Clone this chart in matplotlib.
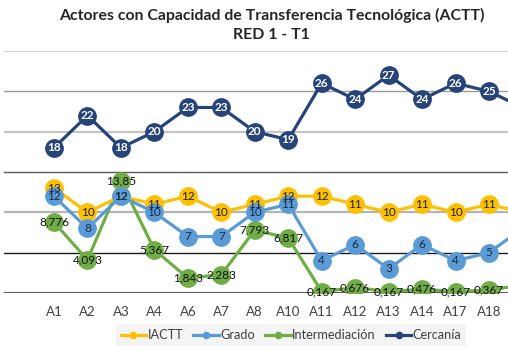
import matplotlib
matplotlib.use("Agg")
import matplotlib.pyplot as plt
from matplotlib.lines import Line2D

plt.rcParams['font.family'] = ['Lato', 'DejaVu Sans']

categories = ["A1", "A2", "A3", "A4", "A6", "A7", "A8", "A10", "A11", "A12",
              "A13", "A14", "A17", "A18", "A19"]
iactt = [13, 10, 12, 11, 12, 10, 11, 12, 12, 11, 10, 11, 10, 11, 10]
grado = [12, 8, 12, 10, 7, 7, 10, 11, 4, 6, 3, 6, 4, 5, 8]
intermediacion = [8.776, 4.093, 13.85, 5.367, 1.843, 2.283, 7.793, 6.817,
                  0.167, 0.676, 0.167, 0.476, 0.167, 0.367, 1.0]
cercania = [18, 22, 18, 20, 23, 23, 20, 19, 26, 24, 27, 24, 26, 25, 23]
grid_values = [0, 5, 10, 15, 20, 25, 30]

title = "Actores con Capacidad de Transferencia Tecnológica (ACTT)\nRED 1 - T1"

W, H = 508, 346
fig = plt.figure(figsize=(W / 100, H / 100), dpi=100)

# layout in pixels
x0_px, step_px = 54, 33.46
left_px = 4
xmin = (left_px - x0_px) / step_px
xmax = 15.5
right_px = x0_px + step_px * xmax
bottom_px, top_px = 293, 51
ax = fig.add_axes([left_px / W, 1 - bottom_px / H, (right_px - left_px) / W,
                   (bottom_px - top_px) / H])
ax.set_xlim(xmin, xmax)
ax.set_ylim(0, 30)
for s in ax.spines.values():
    s.set_visible(False)
ax.set_yticks([])

grid_colors = ["#5a5a5a", "#1a1a1a", "#b4b4b4", "#5a5a5a", "#c4c4c4", "#9a9a9a", "#d4d4d4"]
grid_lw = [2.2, 1.0, 1.6, 1.0, 1.6, 1.0, 1.6]
for v, c, lw in zip(grid_values, grid_colors, grid_lw):
    ax.axhline(v, color=c, lw=lw, zorder=0)

x = list(range(len(categories)))
# only categories whose position falls inside the visible canvas get text
visible = [xi for xi in x if x0_px + step_px * xi < W - 10]
ax.set_xticks(visible)
ax.set_xticklabels([categories[i] for i in visible], fontsize=9.5, color="#404040")
ax.tick_params(axis='x', length=0, pad=9)

ms = 12.5
lw = 2.3
series = [
    ("IACTT", iactt, "#FFC000", 3, "#222222", "normal"),
    ("Grado", grado, "#5B9BD5", 4, "#1a2a44", "normal"),
    ("Intermediación", intermediacion, "#70AD47", 2, "#111111", "normal"),
    ("Cercanía", cercania, "#264478", 5, "white", "bold"),
]

def fmt(v):
    s = f"{v:.3f}".rstrip('0').rstrip('.')
    return s.replace('.', ',')

handles = []
for name, vals, col, z, tcol, tw in series:
    ax.plot(x, vals, color=col, lw=lw, marker='o', ms=ms, mec=col, mfc=col,
            zorder=z, solid_capstyle='round')
    handles.append(Line2D([0], [0], color=col, lw=2.3, marker='o', ms=4.5,
                          mec=col, mfc=col))

for name, vals, col, z, tcol, tw in series:
    for xi in visible:
        v = vals[xi]
        ax.text(xi, v, fmt(v), ha='center', va='center', fontsize=8.5,
                color=tcol, fontweight=tw, zorder=10)

fig.text(271.5 / W, 1 - 25 / H, title, ha='center', va='center',
         fontsize=11.4, fontweight='bold', color='#262626', linespacing=1.4)

leg = fig.legend(handles, [s[0] for s in series], loc='center',
                 bbox_to_anchor=(291 / W, 1 - 335 / H), ncol=4, frameon=True,
                 fontsize=9.2, handlelength=2.0, handletextpad=0.1,
                 columnspacing=0.8, borderpad=0.4, fancybox=False)
leg.get_frame().set_facecolor('#f2f2f2')
leg.get_frame().set_edgecolor('none')
for t in leg.get_texts():
    t.set_color('#404040')

fig.savefig("out.png", dpi=100, facecolor='white')
